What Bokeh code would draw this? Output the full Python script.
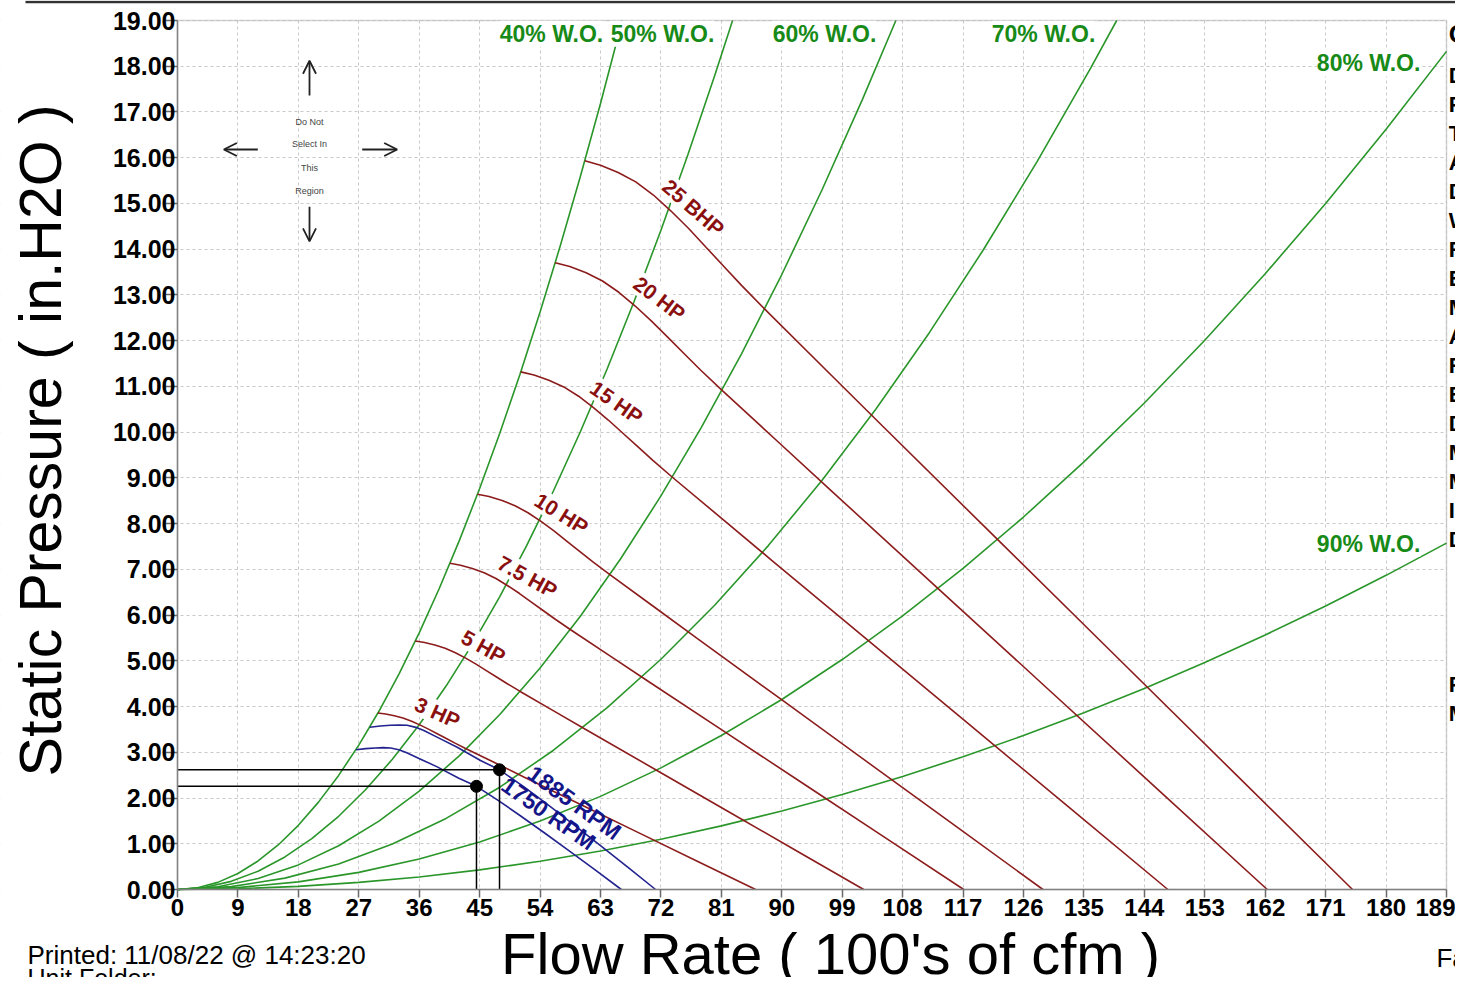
from bokeh.plotting import figure
from bokeh.models import Range1d, FixedTicker, NumeralTickFormatter, Label, Arrow, OpenHead, BoxAnnotation
from bokeh.embed import file_html
from bokeh.resources import INLINE

FONT = "Liberation Sans"

# ---------------- data ----------------
x_ticks = [0, 9, 18, 27, 36, 45, 54, 63, 72, 81, 90, 99, 108, 117, 126, 135, 144, 153, 162, 171, 180, 189]
y_ticks = list(range(0, 20))

# system curves (% wide open)
wo_labels = ["40% W.O.", "50% W.O.", "60% W.O.", "70% W.O.", "80% W.O.", "90% W.O."]
wo40_x = [0, 3, 6, 9, 12, 15, 18, 21, 24, 27, 30, 33, 36, 39, 42, 45, 48, 51, 54, 57, 60, 63, 66, 66.24]
wo40_y = [0, 0.039, 0.156, 0.351, 0.624, 0.974, 1.403, 1.910, 2.494, 3.157, 3.897, 4.715, 5.612, 6.586,
          7.638, 8.768, 9.976, 11.262, 12.626, 14.068, 15.588, 17.186, 18.862, 19.0]
wo50_x = [0, 4, 8, 12, 16, 20, 24, 28, 32, 36, 40, 44, 48, 52, 56, 60, 64, 68, 72, 76, 80, 82.67]
wo50_y = [0, 0.045, 0.178, 0.400, 0.712, 1.112, 1.601, 2.180, 2.847, 3.603, 4.448, 5.382, 6.405, 7.517,
          8.718, 10.008, 11.387, 12.855, 14.412, 16.057, 17.792, 19.0]
wo60_x = [0, 6, 12, 18, 24, 30, 36, 42, 48, 54, 60, 66, 72, 78, 84, 90, 96, 102, 106.99]
wo60_y = [0, 0.060, 0.239, 0.538, 0.956, 1.494, 2.151, 2.928, 3.825, 4.841, 5.976, 7.231, 8.605, 10.099,
          11.713, 13.446, 15.299, 17.271, 19.0]
wo70_x = [0, 8, 16, 24, 32, 40, 48, 56, 64, 72, 80, 88, 96, 104, 112, 120, 128, 136, 139.88]
wo70_y = [0, 0.062, 0.249, 0.559, 0.994, 1.554, 2.237, 3.045, 3.977, 5.034, 6.214, 7.519, 8.949, 10.502,
          12.180, 13.982, 15.909, 17.960, 19.0]
wo80_x = [0, 9, 18, 27, 36, 45, 54, 63, 72, 81, 90, 99, 108, 117, 126, 135, 144, 153, 162, 171, 180, 189]
wo80_y = [0, 0.042, 0.166, 0.374, 0.665, 1.039, 1.496, 2.036, 2.659, 3.366, 4.155, 5.028, 5.984, 7.023,
          8.144, 9.349, 10.638, 12.009, 13.463, 15.001, 16.621, 18.325]
wo90_x = [0, 9, 18, 27, 36, 45, 54, 63, 72, 81, 90, 99, 108, 117, 126, 135, 144, 153, 162, 171, 180, 189]
wo90_y = [0, 0.017, 0.069, 0.155, 0.275, 0.429, 0.618, 0.841, 1.099, 1.391, 1.717, 2.078, 2.473, 2.902,
          3.366, 3.864, 4.396, 4.963, 5.564, 6.199, 6.869, 7.573]

# brake horsepower lines
bhp_labels = ["3 HP", "5 HP", "7.5 HP", "10 HP", "15 HP", "20 HP", "25 BHP"]
hp3_x = [29.84, 31.00, 32.29, 33.58, 34.87, 36.16, 37.45, 38.75, 40.04, 41.33, 43.05, 47.36, 51.66, 60.27, 68.88, 77.49, 86.1]
hp3_y = [3.860, 3.837, 3.798, 3.748, 3.679, 3.594, 3.501, 3.401, 3.300, 3.200, 3.073, 2.764, 2.455, 1.841, 1.227, 0.614, 0]
hp5_x = [35.42, 36.79, 38.33, 39.86, 41.39, 42.92, 44.46, 45.99, 47.52, 49.06, 51.10, 56.21, 61.32, 71.54, 81.76, 91.98, 102.2]
hp5_y = [5.433, 5.400, 5.346, 5.275, 5.178, 5.058, 4.928, 4.786, 4.645, 4.504, 4.325, 3.890, 3.455, 2.592, 1.728, 0.864, 0]
hp75_x = [40.59, 42.16, 43.91, 45.67, 47.43, 49.18, 50.94, 52.70, 54.45, 56.21, 58.55, 64.41, 70.26, 81.97, 93.68, 105.39, 117.1]
hp75_y = [7.134, 7.091, 7.020, 6.927, 6.799, 6.642, 6.471, 6.285, 6.100, 5.914, 5.679, 5.108, 4.537, 3.403, 2.269, 1.134, 0]
hp10_x = [44.68, 46.40, 48.34, 50.27, 52.20, 54.14, 56.07, 58.01, 59.94, 61.87, 64.45, 70.90, 77.34, 90.23, 103.12, 116.01, 128.9]
hp10_y = [8.643, 8.591, 8.505, 8.392, 8.237, 8.047, 7.839, 7.614, 7.390, 7.165, 6.880, 6.188, 5.497, 4.123, 2.748, 1.374, 0]
hp15_x = [51.12, 53.10, 55.31, 57.53, 59.74, 61.95, 64.16, 66.38, 68.59, 70.80, 73.75, 81.13, 88.50, 103.25, 118.0, 132.75, 147.5]
hp15_y = [11.317, 11.249, 11.136, 10.989, 10.785, 10.536, 10.265, 9.970, 9.676, 9.382, 9.008, 8.103, 7.198, 5.398, 3.599, 1.799, 0]
hp20_x = [56.25, 58.43, 60.86, 63.30, 65.73, 68.17, 70.60, 73.04, 75.47, 77.90, 81.15, 89.27, 97.38, 113.61, 129.84, 146.07, 162.3]
hp20_y = [13.702, 13.620, 13.483, 13.305, 13.058, 12.757, 12.428, 12.071, 11.715, 11.359, 10.907, 9.811, 8.716, 6.536, 4.357, 2.179, 0]
hp25_x = [60.66, 63.0, 65.63, 68.25, 70.88, 73.5, 76.13, 78.75, 81.38, 84.0, 87.5, 96.25, 105.0, 122.5, 140.0, 157.5, 175.0]
hp25_y = [15.933, 15.837, 15.678, 15.471, 15.184, 14.834, 14.451, 14.037, 13.623, 13.208, 12.683, 11.408, 10.133, 7.600, 5.067, 2.533, 0]

# fan curves at speed
rpm_labels = ["1885 RPM", "1750 RPM"]
rpm1885_x = [28.64, 30.2, 31.72, 33.0, 34.21, 35.5, 36.69, 39.17, 41.66, 45.13, 47.96, 51.5, 55.0, 59.0, 63.0, 67.1, 71.2]
rpm1885_y = [3.546, 3.575, 3.590, 3.598, 3.590, 3.545, 3.476, 3.294, 3.111, 2.820, 2.617, 2.255, 1.870, 1.420, 0.960, 0.485, 0]
rpm1750_x = [26.59, 28.04, 29.45, 30.64, 31.76, 32.96, 34.06, 36.37, 38.68, 41.90, 44.53, 47.81, 51.06, 54.78, 58.49, 62.30, 66.10]
rpm1750_y = [3.056, 3.081, 3.094, 3.101, 3.094, 3.055, 2.996, 2.839, 2.681, 2.431, 2.256, 1.944, 1.612, 1.224, 0.827, 0.418, 0]

# operating points
op_flow = [47.96, 44.53]
op_sp = [2.617, 2.256]

# ---------------- styling / positions ----------------
GREEN = "#2a962a"
GREEN_TXT = "#178a17"
RED = "#8c1c1c"
RED_TXT = "#8a1010"
BLUE = "#23238f"
BLUE_TXT = "#15158a"

W, H = 1455, 977
FR_LEFT, FR_RIGHT, FR_TOP, FR_BOTTOM = 177, 1446, 20, 889   # chart area in canvas pixels
SX = (FR_RIGHT - FR_LEFT) / 189.0
SY = (FR_BOTTOM - FR_TOP) / 19.0
x_rng = Range1d(-FR_LEFT / SX, (W - FR_LEFT) / SX)
y_rng = Range1d(-(H - FR_BOTTOM) / SY, 19 + FR_TOP / SY)

p = figure(width=W, height=H, x_range=x_rng, y_range=y_rng,
           output_backend="svg", toolbar_location=None, min_border=0)
p.background_fill_color = "white"
p.border_fill_color = "white"
p.outline_line_color = None

for g in (p.xgrid, p.ygrid):
    g.grid_line_color = "#c9c9c9"
    g.grid_line_dash = "3 3"
    g.grid_line_width = 1
p.xgrid.ticker = FixedTicker(ticks=x_ticks)
p.ygrid.ticker = FixedTicker(ticks=y_ticks)

# white masks so grid lines stay inside the chart area
for kw in (dict(right=0), dict(left=189), dict(top=0), dict(bottom=19)):
    p.add_layout(BoxAnnotation(fill_color="white", fill_alpha=1.0, line_color=None, level="underlay", **kw))

p.xaxis.ticker = FixedTicker(ticks=x_ticks)
p.yaxis.ticker = FixedTicker(ticks=y_ticks)
p.yaxis.formatter = NumeralTickFormatter(format="0.00")
p.xaxis.fixed_location = 0
p.yaxis.fixed_location = 0
p.xaxis.bounds = (0, 189)
p.yaxis.bounds = (0, 19)
for ax in (p.xaxis, p.yaxis):
    ax.axis_line_color = "#8a8a8a"
    ax.axis_line_width = 1.5
    ax.major_tick_line_color = "#6a6a6a"
    ax.major_tick_line_width = 1.5
    ax.major_tick_in = 0
    ax.minor_tick_line_color = None
    ax.major_label_text_font = FONT
    ax.major_label_text_font_style = "bold"
    ax.major_label_text_color = "black"
p.xaxis.major_label_text_font_size = "24px"
p.yaxis.major_label_text_font_size = "25px"
p.xaxis.major_tick_out = 8
p.xaxis.major_label_standoff = 1
p.yaxis.major_tick_out = 12
p.yaxis.major_label_standoff = -10

# chart border (top / right)
p.add_layout(BoxAnnotation(left=0, right=189, bottom=0, top=19, fill_alpha=0.0,
                           line_color="#6a6a6a", line_width=1.5))

# edge of the table above the chart (cut off at the top of the page)
top_rule_y = 19 + (FR_TOP - 1.5) / SY
top_rule_x = [(25 - FR_LEFT) / SX, (W - FR_LEFT) / SX]
p.line(top_rule_x, [top_rule_y, top_rule_y], line_color="#333333", line_width=2.5)

# system curves
wo_series = [(wo40_x, wo40_y), (wo50_x, wo50_y), (wo60_x, wo60_y), (wo70_x, wo70_y),
             (wo80_x, wo80_y), (wo90_x, wo90_y)]
for xs, ys in wo_series:
    p.line(xs, ys, line_color=GREEN, line_width=1.6)

# BHP lines
hp_series = [(hp3_x, hp3_y), (hp5_x, hp5_y), (hp75_x, hp75_y), (hp10_x, hp10_y),
             (hp15_x, hp15_y), (hp20_x, hp20_y), (hp25_x, hp25_y)]
for xs, ys in hp_series:
    p.line(xs, ys, line_color=RED, line_width=1.6)

# RPM curves
for xs, ys in [(rpm1885_x, rpm1885_y), (rpm1750_x, rpm1750_y)]:
    p.line(xs, ys, line_color=BLUE, line_width=1.6)

# operating point guide lines
for fx, sp in zip(op_flow, op_sp):
    p.line([0, fx], [sp, sp], line_color="black", line_width=1.5)
    p.line([fx, fx], [sp, 0], line_color="black", line_width=1.5)
p.scatter(op_flow, op_sp, size=12, color="black")

# ---- labels ----
wo_label_pos = [(55.70, 18.71), (72.24, 18.71), (96.37, 18.71), (128.98, 18.71), (177.4, 18.06), (177.4, 7.56)]
for txt, (lx, ly) in zip(wo_labels, wo_label_pos):
    p.add_layout(Label(x=lx, y=ly, text=txt, text_align="center", text_baseline="middle",
                       text_font=FONT, text_font_style="bold", text_font_size="23px",
                       text_color=GREEN_TXT, background_fill_color="white", background_fill_alpha=1.0))

bhp_label_pos = [(38.72, 3.87, -24), (45.58, 5.31, -29), (52.13, 6.84, -29), (57.19, 8.22, -32),
                 (65.39, 10.65, -35), (71.79, 12.92, -37), (76.85, 14.91, -41)]
for txt, (lx, ly, ang) in zip(bhp_labels, bhp_label_pos):
    p.add_layout(Label(x=lx, y=ly, text=txt, angle=ang, angle_units="deg",
                       text_align="center", text_baseline="middle",
                       text_font=FONT, text_font_style="bold", text_font_size="21px",
                       text_color=RED_TXT, background_fill_color="white", background_fill_alpha=1.0))

rpm_label_pos = [(59.13, 1.90, -36), (55.26, 1.66, -35)]
for txt, (lx, ly, ang) in zip(rpm_labels, rpm_label_pos):
    p.add_layout(Label(x=lx, y=ly, text=txt, angle=ang, angle_units="deg",
                       text_align="center", text_baseline="middle",
                       text_font=FONT, text_font_style="bold", text_font_size="23px",
                       text_color=BLUE_TXT))

# "Do Not Select In This Region" block
guide_arrows = [(19.66, 17.36, 19.66, 18.12), (19.66, 14.93, 19.66, 14.17),
                (11.96, 16.18, 6.90, 16.18), (27.51, 16.18, 32.72, 16.18)]
for xs, ys, xe, ye in guide_arrows:
    p.add_layout(Arrow(x_start=xs, y_start=ys, x_end=xe, y_end=ye, line_color="#222222", line_width=1.8,
                       end=OpenHead(size=13, line_color="#222222", line_width=1.8)))
region_lines = ["Do Not", "Select In", "This", "Region"]
region_y = [16.79, 16.29, 15.78, 15.27]
for txt, ly in zip(region_lines, region_y):
    p.add_layout(Label(x=19.66, y=ly, text=txt, text_align="center", text_baseline="middle",
                       text_font=FONT, text_font_size="9px", text_color="#444444"))

# axis titles
p.add_layout(Label(x=-20.26, y=9.82, text="Static Pressure ( in.H2O )", angle=90, angle_units="deg",
                   text_align="center", text_baseline="middle", text_font=FONT,
                   text_font_size="59px", text_color="black"))
p.add_layout(Label(x=97.26, y=-1.40, text="Flow Rate ( 100's of cfm )",
                   text_align="center", text_baseline="middle", text_font=FONT,
                   text_font_size="58px", text_color="black"))

# footer texts
p.add_layout(Label(x=-22.34, y=-1.44, text="Printed: 11/08/22 @ 14:23:20", text_align="left",
                   text_baseline="middle", text_font=FONT, text_font_size="26px", text_color="black"))
p.add_layout(Label(x=-22.34, y=-1.94, text="Unit Folder:", text_align="left",
                   text_baseline="middle", text_font=FONT, text_font_size="25px", text_color="black"))
p.add_layout(Label(x=187.5, y=-1.50, text="Fa", text_align="left",
                   text_baseline="middle", text_font=FONT, text_font_size="26px", text_color="black"))

# side panel (cut off at page edge)
side_letters = ["O", "D", "F", "T", "A", "D", "W", "R", "B", "M", "A", "R", "B", "D", "M", "M", "In", "D", "F", "M"]
side_y = [18.71, 17.80, 17.16, 16.53, 15.89, 15.26, 14.63, 13.99, 13.36, 12.72, 12.09, 11.46, 10.82,
          10.19, 9.55, 8.92, 8.29, 7.65, 4.48, 3.85]
for i, (txt, ly) in enumerate(zip(side_letters, side_y)):
    p.add_layout(Label(x=189.35, y=ly, text=txt, text_align="left",
                       text_baseline="middle", text_font=FONT, text_font_style="bold",
                       text_font_size="26px" if i == 0 else "22px", text_color="black"))

open("out.html", "w").write(file_html(p, INLINE))
